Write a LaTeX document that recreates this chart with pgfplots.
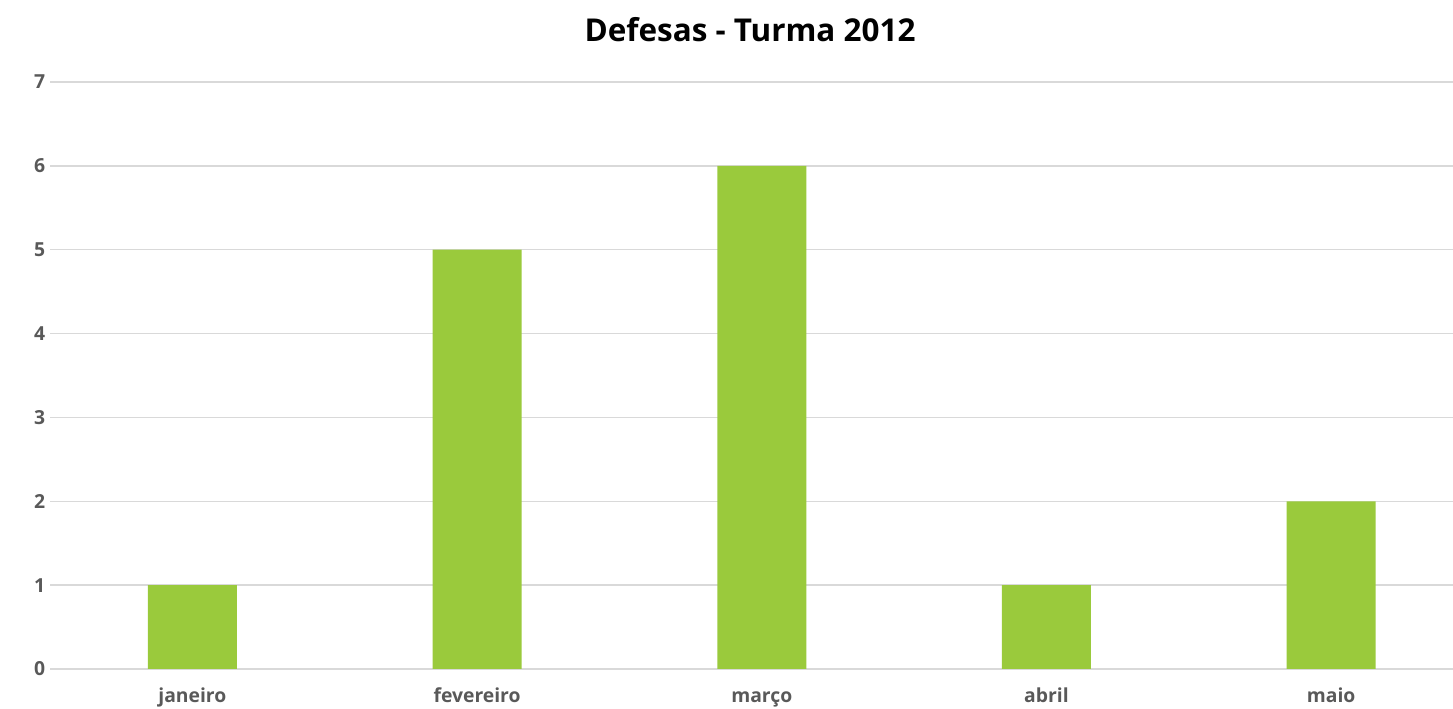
\documentclass[border=0pt]{standalone}
\usepackage{pgfplots}
\pgfplotsset{compat=1.18}
\usepackage{fontspec}
\setmainfont{Open Sans}
\definecolor{bargreen}{RGB}{154,202,60}
\definecolor{gridgray}{RGB}{217,217,217}
\definecolor{labelgray}{RGB}{89,89,89}
\begin{document}
\begin{tikzpicture}[x=0.75pt,y=0.75pt]
\begin{axis}[
  at={(0,0)}, anchor=south west,
  scale only axis,
  width=1052.25pt, height=440.25pt,
  xmin=-0.5, xmax=4.428,
  ymin=0, ymax=7,
  ytick={0,...,7},
  xtick={0,1,2,3,4},
  xticklabels={janeiro,fevereiro,março,abril,maio},
  ymajorgrids,
  grid style={gridgray, line width=1.1pt},
  axis x line*=bottom,
  axis y line*=left,
  x axis line style={draw=gridgray, line width=1.1pt},
  y axis line style={draw=none},
  major tick length=0pt,
  tick style={draw=none},
  ticklabel style={font=\fontsize{14.5}{16}\selectfont\bfseries, text=labelgray, inner sep=0pt},
  /pgf/number format/assume math mode=true,
  yticklabel style={anchor=east, xshift=-3.5pt},
  xticklabel style={anchor=base, yshift=-25.5pt},
  clip=false,
]
\addplot[ybar, bar width=66.75pt, fill=bargreen, draw=none] coordinates {(0,1) (1,5) (2,6) (3,1) (4,2)};
\end{axis}
\node[font=\fontsize{23.6}{26}\selectfont\bfseries, text=black] at (700,639) {Defesas - Turma 2012};
\pgfresetboundingbox
\path (-50,-40) rectangle (1403,669);
\end{tikzpicture}
\end{document}
